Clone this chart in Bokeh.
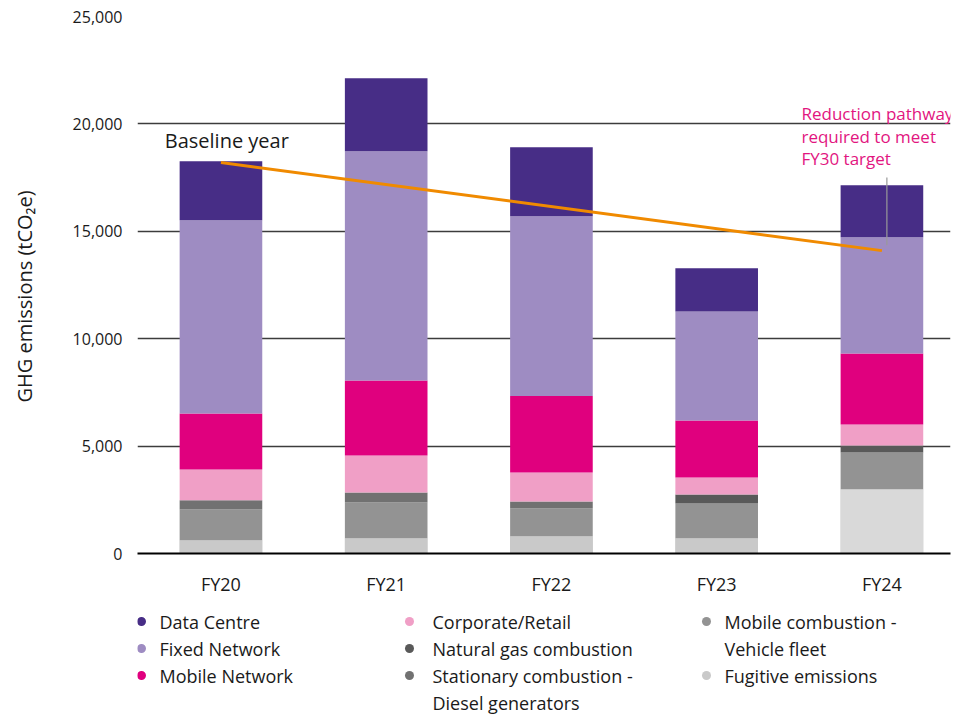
from bokeh.plotting import figure
from bokeh.models import ColumnDataSource, Range1d, FixedTicker, NumeralTickFormatter, Label
from bokeh.layouts import column
from bokeh.embed import file_html
from bokeh.resources import INLINE
from bokeh.core.properties import value

# ---------------- data ----------------
years = ["FY20", "FY21", "FY22", "FY23", "FY24"]

fugitive_emissions = [605, 698, 792, 698, 2981]
mobile_combustion = [1444, 1677, 1304, 1631, 1723]
stationary_combustion = [434, 466, 326, 0, 0]
natural_gas = [0, 0, 0, 419, 326]
corporate_retail = [1429, 1723, 1351, 792, 978]
mobile_network = [2608, 3494, 3555, 2655, 3307]
fixed_network = [8990, 10666, 8368, 5077, 5403]
data_centre = [2748, 3400, 3214, 2002, 2422]

pathway_years = ["FY20", "FY24"]
pathway_values = [18200, 14100]

y_ticks = [0, 5000, 10000, 15000, 20000, 25000]

# ---------------- styling ----------------
FONT = "Open Sans"
TXT = "#1a1a1a"
MAGENTA = "#e2157f"
fugitive_bar_colors = ["#c9c9c9", "#c9c9c9", "#c9c9c9", "#c9c9c9", "#d9d9d9"]

series = [
    ("fugitive", "Fugitive emissions", fugitive_emissions, "#c9c9c9"),
    ("mobile_comb", "Mobile combustion - Vehicle fleet", mobile_combustion, "#939393"),
    ("stationary", "Stationary combustion - Diesel generators", stationary_combustion, "#717171"),
    ("natgas", "Natural gas combustion", natural_gas, "#595959"),
    ("corporate", "Corporate/Retail", corporate_retail, "#f09fc6"),
    ("mobile_net", "Mobile Network", mobile_network, "#e0007e"),
    ("fixed", "Fixed Network", fixed_network, "#9e8cc2"),
    ("datacentre", "Data Centre", data_centre, "#472d86"),
]
color_of = {k: c for k, _, _, c in series}

data = {"x": list(range(len(years))), "fug_color": fugitive_bar_colors}
for key, _, vals, _ in series:
    data[key] = vals
src = ColumnDataSource(data)

p = figure(width=958, height=598, x_range=Range1d(-0.505, 4.415), y_range=Range1d(0, 25000),
           toolbar_location=None, output_backend="svg",
           min_border_left=137, min_border_right=8, min_border_top=16, min_border_bottom=45)
p.outline_line_color = None
p.background_fill_color = "white"

p.vbar_stack([k for k, _, _, _ in series], x="x", width=0.5, source=src,
             color=[c for _, _, _, c in series], line_width=0)
# bottom layer re-coloured per bar (FY24 fugitive block is lighter in the source)
p.vbar(x="x", top="fugitive", bottom=0, width=0.5, source=src, fill_color="fug_color", line_width=0)

# reduction pathway line
px = [years.index(y) for y in pathway_years]
p.line(px, pathway_values, line_color="#f08a00", line_width=3)

# callout leader
p.segment(x0=[4.03], y0=[17500], x1=[4.03], y1=[14350], line_color="#999999", line_width=1.2)

# axes
p.xaxis.ticker = FixedTicker(ticks=list(range(len(years))))
p.xaxis.major_label_overrides = {i: y for i, y in enumerate(years)}
p.xaxis.major_tick_line_color = None
p.xaxis.major_tick_out = 0
p.xaxis.major_tick_in = 0
p.xaxis.minor_tick_line_color = None
p.xaxis.axis_line_color = "black"
p.xaxis.axis_line_width = 2
p.xaxis.major_label_standoff = 18
p.xaxis.major_label_text_font = FONT
p.xaxis.major_label_text_font_size = "18px"
p.xaxis.major_label_text_color = TXT

p.yaxis.ticker = FixedTicker(ticks=y_ticks)
p.yaxis.formatter = NumeralTickFormatter(format="0,0")
p.yaxis.axis_line_color = None
p.yaxis.major_tick_line_color = None
p.yaxis.major_tick_out = 0
p.yaxis.major_tick_in = 0
p.yaxis.minor_tick_line_color = None
p.yaxis.major_label_standoff = 15
p.yaxis.major_label_text_font = FONT
p.yaxis.major_label_text_font_size = "16px"
p.yaxis.major_label_text_color = TXT
p.yaxis.axis_label = "GHG emissions (tCO₂e)\u2007\u2007"
p.yaxis.axis_label_text_font = FONT
p.yaxis.axis_label_text_font_size = "20px"
p.yaxis.axis_label_text_font_style = "normal"
p.yaxis.axis_label_text_color = TXT
p.yaxis.axis_label_standoff = 32

p.xgrid.grid_line_color = None
p.ygrid.ticker = FixedTicker(ticks=y_ticks)
p.ygrid.grid_line_color = "#3c3c3c"
p.ygrid.grid_line_width = 1.3

# annotations
p.add_layout(Label(x=-0.34, y=19230, text="Baseline year", text_font=FONT, text_font_size="20px",
                   text_color=TXT, text_baseline="middle", text_align="left"))
for txt, yy in zip(["Reduction pathway", "required to meet", "FY30 target"], [20494, 19423, 18398]):
    p.add_layout(Label(x=3.513, y=yy, text=txt, text_font=FONT, text_font_size="17px",
                       text_color=MAGENTA, text_baseline="middle", text_align="left"))

# ---------------- legend (drawn as its own small figure, page-pixel coordinates) ----------------
legend_columns = [
    [("datacentre", ["Data Centre"]), ("fixed", ["Fixed Network"]), ("mobile_net", ["Mobile Network"])],
    [("corporate", ["Corporate/Retail"]), ("natgas", ["Natural gas combustion"]),
     ("stationary", ["Stationary combustion -", "Diesel generators"])],
    [("mobile_comb", ["Mobile combustion -", "Vehicle fleet"]), ("fugitive", ["Fugitive emissions"])],
]
col_dot_x = [141, 409, 706]
col_text_x = [159, 432, 724]
row0, row_step = 621, 27

dot_x, dot_y, dot_c = [], [], []
tx, ty, tt = [], [], []
for ci, col in enumerate(legend_columns):
    row = 0
    for key, lines in col:
        dot_x.append(col_dot_x[ci]); dot_y.append(row0 + row * row_step); dot_c.append(color_of[key])
        for ln in lines:
            tx.append(col_text_x[ci]); ty.append(row0 + row * row_step); tt.append(ln)
            row += 1

leg = figure(width=958, height=117, x_range=Range1d(137, 950), y_range=Range1d(715, 598),
             toolbar_location=None, output_backend="svg",
             min_border_left=137, min_border_right=8, min_border_top=0, min_border_bottom=0,
             x_axis_location=None, y_axis_location=None)
leg.outline_line_color = None
leg.grid.visible = False
leg.scatter(dot_x, dot_y, size=9, color=dot_c, line_width=0)
leg.text(tx, ty, text=tt, text_font=value(FONT), text_font_size="18px", text_color=TXT,
         text_baseline="middle", text_align="left")

layout = column(p, leg, spacing=0)
open("out.html", "w").write(file_html(layout, INLINE))
